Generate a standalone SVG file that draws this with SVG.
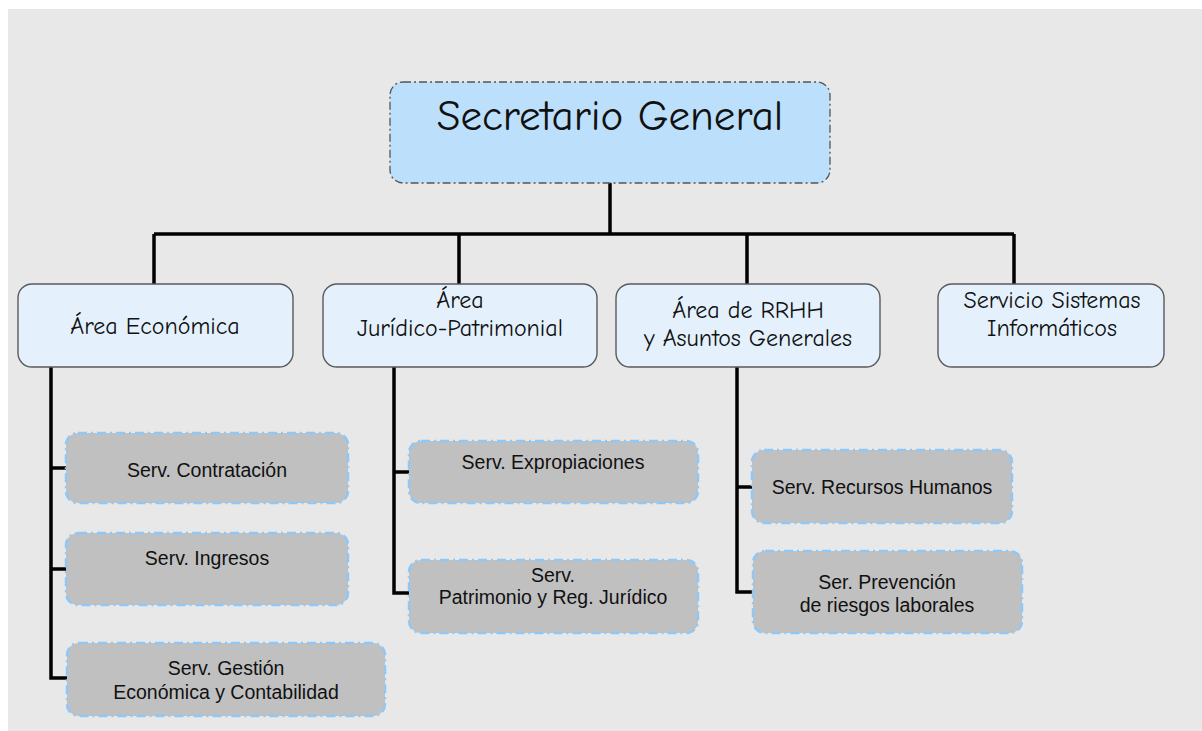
<svg xmlns="http://www.w3.org/2000/svg" width="1202" height="731" viewBox="0 0 1202 731">
<style>
.bg{fill:#e8e8e8}
.top{fill:#bcdffb;stroke:#555;stroke-width:1.3;stroke-dasharray:8 3 2 3}
.area{fill:#e4f1fd;stroke:#5a5a5a;stroke-width:1.4}
.serv{fill:#c0c0c0;stroke:#8ec8f8;stroke-width:2.5;stroke-dasharray:9 4 2 4}
.conn{fill:none;stroke:#000;stroke-width:3.5}
.t1{font-family:"Comic Sans MS","Comic Neue","DejaVu Sans",sans-serif;fill:#111;text-anchor:middle;font-size:24px}
.t2{font-family:"Liberation Sans",Arial,sans-serif;font-size:19.5px;fill:#111;text-anchor:middle}
</style>
<rect x="0" y="0" width="1202" height="731" fill="#fff"/>
<rect class="bg" x="8" y="9" width="1194" height="722"/>
<g id="connectors">
<path class="conn" d="M610 183V234M154 234H1014M154 234V284M459 234V284M747 234V284M1014 234V284"/>
<path class="conn" d="M51 367V678H67M51 468H66M51 569H66"/>
<path class="conn" d="M394 367V593H409M394 472H409"/>
<path class="conn" d="M737 367V592H753M737 487H752"/>
</g>
<g id="n-secretario">
<rect class="top" x="390" y="82" width="440" height="101" rx="13"/>
<text class="t1" x="610" y="130" font-size="43" style="font-size:43px">Secretario General</text>
</g>
<g id="n-economica">
<rect class="area" x="18" y="284" width="275" height="83" rx="14"/>
<text class="t1" x="155" y="334">Área Económica</text>
</g>
<g id="n-juridico">
<rect class="area" x="323" y="284" width="274" height="83" rx="14"/>
<text class="t1" x="460" y="308">Área</text>
<text class="t1" x="460" y="336">Jurídico-Patrimonial</text>
</g>
<g id="n-rrhh">
<rect class="area" x="616" y="284" width="264" height="83" rx="14"/>
<text class="t1" x="748" y="318">Área de RRHH</text>
<text class="t1" x="748" y="346">y Asuntos Generales</text>
</g>
<g id="n-sistemas">
<rect class="area" x="938" y="284" width="226" height="83" rx="14"/>
<text class="t1" x="1052" y="308">Servicio Sistemas</text>
<text class="t1" x="1052" y="336">Informáticos</text>
</g>
<g id="n-contratacion">
<rect class="serv" x="66" y="433" width="282" height="70" rx="12"/>
<text class="t2" x="207" y="477">Serv. Contratación</text>
</g>
<g id="n-ingresos">
<rect class="serv" x="66" y="533" width="282" height="72" rx="12"/>
<text class="t2" x="207" y="565">Serv. Ingresos</text>
</g>
<g id="n-gestion">
<rect class="serv" x="67" y="643" width="318" height="73" rx="12"/>
<text class="t2" x="226" y="675">Serv. Gestión</text>
<text class="t2" x="226" y="699">Económica y Contabilidad</text>
</g>
<g id="n-expropiaciones">
<rect class="serv" x="409" y="441" width="289" height="62" rx="12"/>
<text class="t2" x="553" y="469">Serv. Expropiaciones</text>
</g>
<g id="n-patrimonio">
<rect class="serv" x="409" y="560" width="289" height="73" rx="12"/>
<text class="t2" x="553" y="582">Serv.</text>
<text class="t2" x="553" y="604">Patrimonio y Reg. Jurídico</text>
</g>
<g id="n-rrhh-serv">
<rect class="serv" x="752" y="450" width="260" height="73" rx="12"/>
<text class="t2" x="882" y="494">Serv. Recursos Humanos</text>
</g>
<g id="n-prevencion">
<rect class="serv" x="753" y="551" width="269" height="82" rx="12"/>
<text class="t2" x="887" y="589">Ser. Prevención</text>
<text class="t2" x="887" y="612">de riesgos laborales</text>
</g>
</svg>
